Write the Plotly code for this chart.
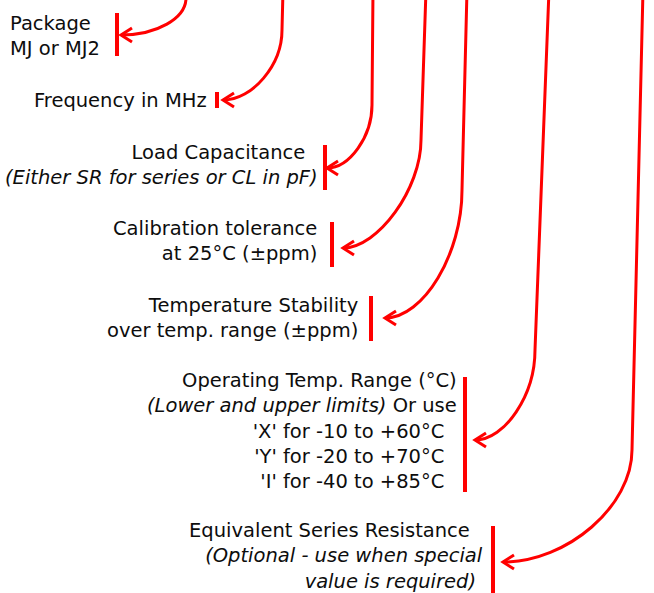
import plotly.graph_objects as go

# ---- callout texts ----
labels = [
    "Package<br>MJ or MJ2",
    "Frequency in MHz",
    "Load Capacitance\u00a0\u00a0<br><i>(Either SR for series or CL in pF)</i>",
    "Calibration tolerance<br>at 25°C (±ppm)",
    "Temperature Stability<br>over temp. range (±ppm)",
    "Operating Temp. Range (°C)<br><i>(Lower and upper limits)</i> Or use<br>"
    "'X' for -10 to +60°C\u00a0\u00a0<br>'Y' for -20 to +70°C\u00a0\u00a0<br>'I' for -40 to +85°C\u00a0\u00a0",
    "Equivalent Series Resistance\u00a0\u00a0<br><i>(Optional - use when special</i><br>"
    "<i>value is required)</i>\u00a0",
]
label_align = ["left", "right", "right", "right", "right", "right", "right"]
label_x = [10, 207, 318, 317, 358, 457, 483]
label_y = [36, 100, 164.5, 241, 317.5, 431, 556]

# ---- marker bars beside each callout ----
bar_x = [117, 217, 325, 332, 371, 465, 493]
bar_top = [13, 92, 145, 222, 296, 377, 526]
bar_bottom = [56, 108, 190, 267, 341, 492, 600]

# ---- leader curves (enter from top, bend, arrow at tip) ----
lead_top_x = [186, 283, 373, 426, 467, 549, 643]
bend_x = [186, 282, 372, 421, 462, 535, 632]
bend_y = [-2, 30, 105, 140, 190, 350, 450]
tip_x = [121, 223, 327, 343, 385, 475, 503]
tip_y = [35, 100, 168, 248, 318, 440, 562]
bend_k = [0.55, 0.5, 0.5, 0.45, 0.5, 0.5, 0.5]

RED = "#ff0000"
W, H = 654, 593

fig = go.Figure()
shapes = []
annotations = []

for i in range(len(labels)):
    # bar
    shapes.append(dict(type="line", xref="x", yref="y",
                       x0=bar_x[i], x1=bar_x[i], y0=bar_top[i], y1=bar_bottom[i],
                       line=dict(color=RED, width=4)))
    # leader curve
    k = bend_k[i]
    c1x, c1y = bend_x[i], bend_y[i] + k * (tip_y[i] - bend_y[i])
    c2x, c2y = tip_x[i] + k * (bend_x[i] - tip_x[i]), tip_y[i]
    path = (f"M {lead_top_x[i]},-10 L {bend_x[i]},{bend_y[i]} "
            f"C {c1x},{c1y} {c2x},{c2y} {tip_x[i]},{tip_y[i]}")
    shapes.append(dict(type="path", xref="x", yref="y", path=path,
                       line=dict(color=RED, width=3)))
    # open arrow head
    head = (f"M {tip_x[i] + 11},{tip_y[i] - 7} L {tip_x[i]},{tip_y[i]} "
            f"L {tip_x[i] + 11},{tip_y[i] + 7}")
    shapes.append(dict(type="path", xref="x", yref="y", path=head,
                       line=dict(color=RED, width=3)))
    # text
    annotations.append(dict(
        x=label_x[i], y=label_y[i], xref="x", yref="y",
        text=labels[i], showarrow=False,
        xanchor=label_align[i], yanchor="middle", align=label_align[i],
        borderpad=0, borderwidth=0,
        font=dict(family="DejaVu Sans", size=19.5, color="#0d0d0d"),
    ))

fig.update_layout(
    width=W, height=H,
    margin=dict(l=0, r=0, t=0, b=0),
    paper_bgcolor="white", plot_bgcolor="white",
    xaxis=dict(range=[0, W], visible=False, fixedrange=True),
    yaxis=dict(range=[H, 0], visible=False, fixedrange=True),
    shapes=shapes, annotations=annotations,
    showlegend=False,
)

fig.write_html(
    "out.html",
    config={"displayModeBar": False},
    post_script="document.body.style.margin='0';document.body.style.overflow='hidden';",
)
